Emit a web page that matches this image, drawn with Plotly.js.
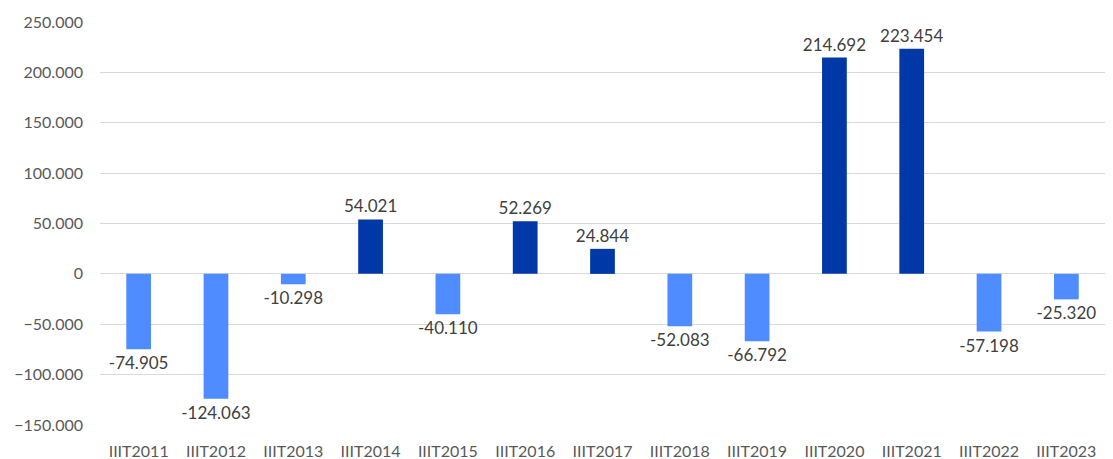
<!DOCTYPE html>
<html><head><meta charset="utf-8">
<script src="https://cdn.plot.ly/plotly-3.0.1.min.js"></script>
<style>html,body{margin:0;padding:0;background:#fff}#c{width:1113px;height:459px}</style>
</head><body><div id="c"></div>
<script>
const categories = ["IIIT2011","IIIT2012","IIIT2013","IIIT2014","IIIT2015","IIIT2016","IIIT2017","IIIT2018","IIIT2019","IIIT2020","IIIT2021","IIIT2022","IIIT2023"];
const values = [-74905,-124063,-10298,54021,-40110,52269,24844,-52083,-66792,214692,223454,-57198,-25320];
const tickValues = [-150000,-100000,-50000,0,50000,100000,150000,200000,250000];
const colors = values.map(v => v >= 0 ? "#0038A8" : "#4F8CFF");
Plotly.newPlot("c", [{
  type: "bar", x: categories, y: values,
  marker: {color: colors},
  texttemplate: "%{y:,d}", textposition: "outside", cliponaxis: false,
  constraintext: "none",
  textfont: {family: "Lato, sans-serif", size: 17, color: "#404040"},
  hoverinfo: "none"
}], {
  width: 1113, height: 459,
  margin: {l: 100, r: 8, t: 22, b: 34},
  separators: ",.",
  bargap: 0.68,
  showlegend: false,
  paper_bgcolor: "#fff", plot_bgcolor: "#fff",
  font: {family: "Lato, sans-serif", size: 16, color: "#595959"},
  xaxis: {showline: false, ticks: "", ticklabelstandoff: 15, tickfont: {size: 16, color: "#595959"}},
  yaxis: {range: [-150000, 250000], tickvals: tickValues, tickformat: ",d",
          gridcolor: "#d9d9d9", gridwidth: 1, zeroline: false, ticks: "", ticklen: 0,
          ticklabelstandoff: 16,
          tickfont: {size: 16, color: "#595959"}, automargin: false}
}, {staticPlot: true});
</script></body></html>
